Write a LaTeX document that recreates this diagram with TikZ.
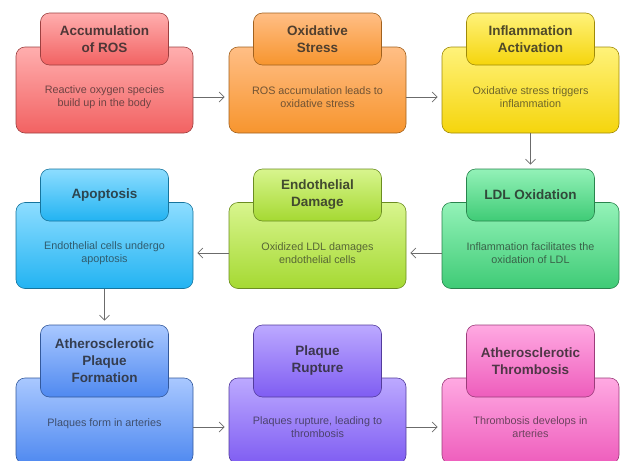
\documentclass[tikz,border=0pt]{standalone}
\usepackage{fontspec}
\setmainfont{Liberation Sans}
\usetikzlibrary{arrows.meta}
\definecolor{redtop}{HTML}{FFAEAE}
\definecolor{redbot}{HTML}{F26262}
\definecolor{orangetop}{HTML}{FFBE85}
\definecolor{orangebot}{HTML}{F7952E}
\definecolor{yellowtop}{HTML}{FFF27A}
\definecolor{yellowbot}{HTML}{F5D50C}
\definecolor{greentop}{HTML}{93F2B8}
\definecolor{greenbot}{HTML}{3FCB76}
\definecolor{limetop}{HTML}{D8F58E}
\definecolor{limebot}{HTML}{A5D932}
\definecolor{skytop}{HTML}{8DDDFF}
\definecolor{skybot}{HTML}{22B3F2}
\definecolor{bluetop}{HTML}{A9C8FF}
\definecolor{bluebot}{HTML}{4F89F0}
\definecolor{purpletop}{HTML}{BCA9FF}
\definecolor{purplebot}{HTML}{7F5DF2}
\definecolor{pinktop}{HTML}{FFA9E2}
\definecolor{pinkbot}{HTML}{EE5DBC}
\tikzset{
  card/.style={draw=#1bot!65!black, line width=0.6pt, rounded corners=9pt,
    top color=#1top, bottom color=#1bot, minimum width=177pt, minimum height=86pt, inner sep=0pt},
  head/.style={draw=#1bot!65!black, line width=0.6pt, rounded corners=9pt,
    top color=#1top, bottom color=#1bot, minimum width=128pt, minimum height=52pt, inner sep=0pt,
    align=center, font=\fontsize{13.5}{17}\selectfont\bfseries, text=#1bot!20!black!85},
  info/.style={align=center, font=\fontsize{10.8}{13}\selectfont, text=#1bot!35!black!85},
  flow/.style={draw=black!58, line width=0.7pt, shorten >=4pt, -{Straight Barb[length=5pt,width=10pt]}}
}
\begin{document}
\begin{tikzpicture}[x=1pt,y=-1pt]
\useasboundingbox (0,0) rectangle (622,461);
% row 1
\node[card=red] (ros) at (104.5,90) {};
\node[head=red] (ros-h) at (104.5,39) {Accumulation\\of ROS};
\node[info=red] (ros-t) at (104.5,97) {Reactive oxygen species\\build up in the body};
\node[card=orange] (stress) at (317.5,90) {};
\node[head=orange] (stress-h) at (317.5,39) {Oxidative\\Stress};
\node[info=orange] (stress-t) at (317.5,97) {ROS accumulation leads to\\oxidative stress};
\node[card=yellow] (inflam) at (530.5,90) {};
\node[head=yellow] (inflam-h) at (530.5,39) {Inflammation\\Activation};
\node[info=yellow] (inflam-t) at (530.5,97) {Oxidative stress triggers\\inflammation};
% row 2
\node[card=green] (ldl) at (530.5,245.5) {};
\node[head=green] (ldl-h) at (530.5,195) {LDL Oxidation};
\node[info=green] (ldl-t) at (530.5,253) {Inflammation facilitates the\\oxidation of LDL};
\node[card=lime] (endo) at (317.5,245.5) {};
\node[head=lime] (endo-h) at (317.5,195) {Endothelial\\Damage};
\node[info=lime] (endo-t) at (317.5,253) {Oxidized LDL damages\\endothelial cells};
\node[card=sky] (apop) at (104.5,245.5) {};
\node[head=sky] (apop-h) at (104.5,195) {Apoptosis};
\node[info=sky] (apop-t) at (104.5,253) {Endothelial cells undergo\\apoptosis};
% row 3
\node[card=blue] (plaque) at (104.5,421) {};
\node[head=blue, minimum height=72pt] (plaque-h) at (104.5,361) {Atherosclerotic\\Plaque\\Formation};
\node[info=blue] (plaque-t) at (104.5,424) {Plaques form in arteries};
\node[card=purple] (rupture) at (317.5,421) {};
\node[head=purple, minimum height=72pt] (rupture-h) at (317.5,361) {Plaque\\Rupture};
\node[info=purple] (rupture-t) at (317.5,427) {Plaques rupture, leading to\\thrombosis};
\node[card=pink] (thromb) at (530.5,421) {};
\node[head=pink, minimum height=72pt] (thromb-h) at (530.5,361) {Atherosclerotic\\Thrombosis};
\node[info=pink] (thromb-t) at (530.5,427) {Thrombosis develops in\\arteries};
% arrows
\draw[flow] (ros.east |- ros-t) -- (stress.west |- ros-t);
\draw[flow] (stress.east |- stress-t) -- (inflam.west |- stress-t);
\draw[flow] (inflam) -- (ldl-h);
\draw[flow] (ldl.west |- ldl-t) -- (endo.east |- ldl-t);
\draw[flow] (endo.west |- endo-t) -- (apop.east |- endo-t);
\draw[flow] (apop) -- (plaque-h);
\draw[flow] (plaque.east |- rupture-t) -- (rupture.west |- rupture-t);
\draw[flow] (rupture.east |- rupture-t) -- (thromb.west |- rupture-t);
\end{tikzpicture}
\end{document}
